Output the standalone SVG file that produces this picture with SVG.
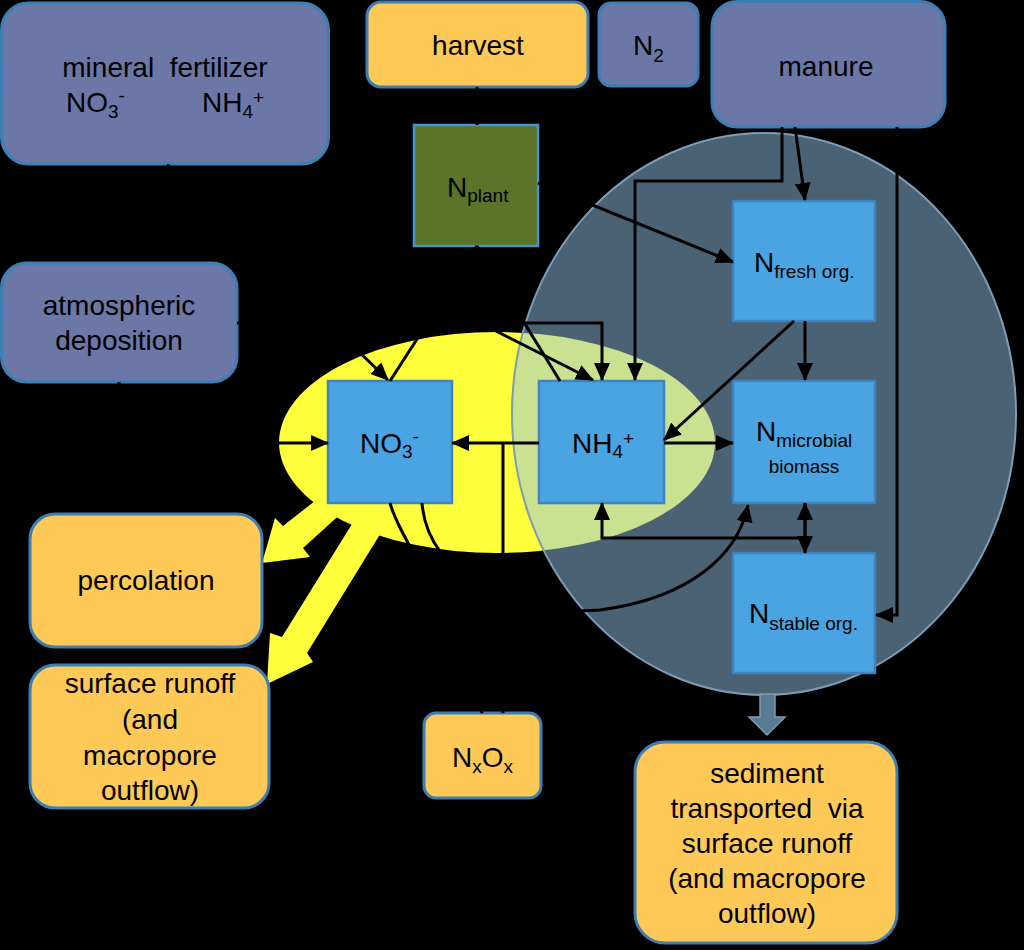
<svg xmlns="http://www.w3.org/2000/svg" width="1024" height="950" viewBox="0 0 1024 950">
<style>
text{font-family:"Liberation Sans",Arial,sans-serif;font-size:28px;fill:#000}
.sub{font-size:19px}
.slate{fill:#6b77a6;stroke:#3b7fb5;stroke-width:3}
.orange{fill:#ffc957;stroke:#3b7fb5;stroke-width:3}
.box{fill:#49a4e1;stroke:#3f84bf;stroke-width:2.5}
.plant{fill:#5b7429;stroke:#4a93cf;stroke-width:2.5}
.ln{fill:none;stroke:#000;stroke-width:3}
.arr{marker-end:url(#ah)}
.mid{text-anchor:middle}
</style>
<defs>
<marker id="ah" viewBox="0 0 18 16" refX="17" refY="8" markerWidth="18" markerHeight="16" markerUnits="userSpaceOnUse" orient="auto-start-reverse"><path d="M0,0 L18,8 L0,16 z" fill="#000"/></marker>
</defs>
<rect width="1024" height="950" fill="#000"/>
<g id="regions">
<polygon id="flow-percolation" points="320,497 345,510 303,548 310,557 262,563 275,518 283,526" fill="#ffff3c"/>
<polygon id="flow-runoff" points="370,495 395,510 307,653 313,662 267,684 270,633 282,637" fill="#ffff3c"/>
<ellipse id="mineral-pool" cx="497" cy="442.5" rx="218" ry="110.5" fill="#ffff3c"/>
<ellipse id="organic-pool" cx="764" cy="414" rx="252" ry="281" fill="rgb(148,195,230)" fill-opacity="0.5" stroke="#7d9cb6" stroke-width="2"/>
<polygon id="flow-sediment" points="760,694 775,694 775,717 785,717 767,735 749,717 760,717" fill="#587a92" stroke="#7d9cb6" stroke-width="1.5"/>
</g>
<g id="fertilizer"><rect class="slate" x="1.5" y="3" width="327" height="161" rx="27"/>
<text x="165" y="77" class="mid" xml:space="preserve">mineral  fertilizer</text>
<text x="66" y="112">NO<tspan class="sub" dy="6">3</tspan><tspan class="sub" dy="-16">-</tspan></text>
<text x="202" y="112">NH<tspan class="sub" dy="6">4</tspan><tspan class="sub" dy="-14">+</tspan></text></g>
<g id="harvest"><rect class="orange" x="367" y="2" width="221" height="85" rx="14"/><text x="478" y="55" class="mid">harvest</text></g>
<g id="n2"><rect class="slate" x="599" y="3" width="99" height="83" rx="12"/><text x="633" y="55">N<tspan class="sub" dy="7">2</tspan></text></g>
<g id="manure"><rect class="slate" x="712" y="1.5" width="233" height="125.5" rx="25"/><text x="826" y="76" class="mid">manure</text></g>
<g id="nplant"><rect class="plant" x="414" y="125" width="124" height="121"/><text x="447" y="197">N<tspan class="sub" dy="5">plant</tspan></text></g>
<g id="deposition"><rect class="slate" x="1.5" y="263" width="235.5" height="119" rx="25"/><text x="119" y="315" class="mid">atmospheric</text><text x="119" y="350" class="mid">deposition</text></g>
<g id="no3"><rect class="box" x="328" y="381" width="124" height="122"/><text x="360" y="453">NO<tspan class="sub" dy="5">3</tspan><tspan class="sub" dy="-15">-</tspan></text></g>
<g id="nh4"><rect class="box" x="539" y="381" width="125" height="122"/><text x="572" y="453">NH<tspan class="sub" dy="5">4</tspan><tspan class="sub" dy="-13">+</tspan></text></g>
<g id="nfresh"><rect class="box" x="733" y="201" width="142" height="120"/><text x="754" y="272">N<tspan class="sub" dy="6">fresh org.</tspan></text></g>
<g id="nmicrobial"><rect class="box" x="733" y="381" width="142" height="122"/><text x="756" y="441">N<tspan class="sub" dy="6">microbial</tspan></text><text x="804" y="473" class="mid sub">biomass</text></g>
<g id="nstable"><rect class="box" x="733" y="553" width="142" height="120"/><text x="749" y="623">N<tspan class="sub" dy="7">stable org.</tspan></text></g>
<g id="percolation"><rect class="orange" x="30" y="514" width="232" height="133" rx="25"/><text x="146" y="590" class="mid">percolation</text></g>
<g id="runoff"><rect class="orange" x="30" y="665" width="239" height="143" rx="25"/>
<text x="150" y="693" class="mid">surface runoff</text><text x="150" y="729" class="mid">(and</text><text x="150" y="765" class="mid">macropore</text><text x="150" y="800" class="mid">outflow)</text></g>
<g id="nxox"><rect class="orange" x="424" y="713" width="117" height="85" rx="12"/><text x="452" y="767">N<tspan class="sub" dy="6">x</tspan><tspan dy="-6">O</tspan><tspan class="sub" dy="6">x</tspan></text></g>
<g id="sediment"><rect class="orange" x="635" y="742" width="262" height="201" rx="30"/>
<text x="767" y="783" class="mid">sediment</text><text x="767" y="818" class="mid" xml:space="preserve">transported  via</text><text x="767" y="853" class="mid">surface runoff</text><text x="767" y="888" class="mid">(and macropore</text><text x="767" y="923" class="mid">outflow)</text></g>
<g id="connectors">
<path class="ln arr" d="M167,165 L388,380"/>
<path class="ln arr" d="M167,165 L593,380"/>
<path class="ln arr" d="M237,323 L602,323 L602,380"/>
<path class="ln arr" d="M119,382 L119,443 L328,443"/>
<path class="ln arr" d="M390,381 L477,246"/>
<path class="ln arr" d="M560,381 L477,246"/>
<path class="ln arr" d="M477,125 L477,87"/>
<path class="ln arr" d="M538,183 L733,262"/>
<path class="ln arr" d="M782,127 L782,181 L635,181 L635,380"/>
<path class="ln arr" d="M795,127 L805,200"/>
<path class="ln arr" d="M897,127 L897,615 L876,615"/>
<path class="ln arr" d="M805,321 L805,380"/>
<path class="ln arr" d="M794,321 L664,440"/>
<path class="ln arr" d="M664,443 L733,443"/>
<path class="ln arr" d="M539,443 L452,443"/>
<path class="ln arr" d="M503,443 L503,713"/>
<path class="ln arr" d="M390,503 C400,540 460,620 482,713"/>
<path class="ln arr" d="M422,503 C428,580 520,616 600,610 C690,598 738,555 748,505"/>
<path class="ln arr" d="M805,538 L805,503" />
<path class="ln arr" d="M805,503 L805,553"/>
<path class="ln arr" d="M805,538 L602,538 L602,503"/>
</g>
</svg>
